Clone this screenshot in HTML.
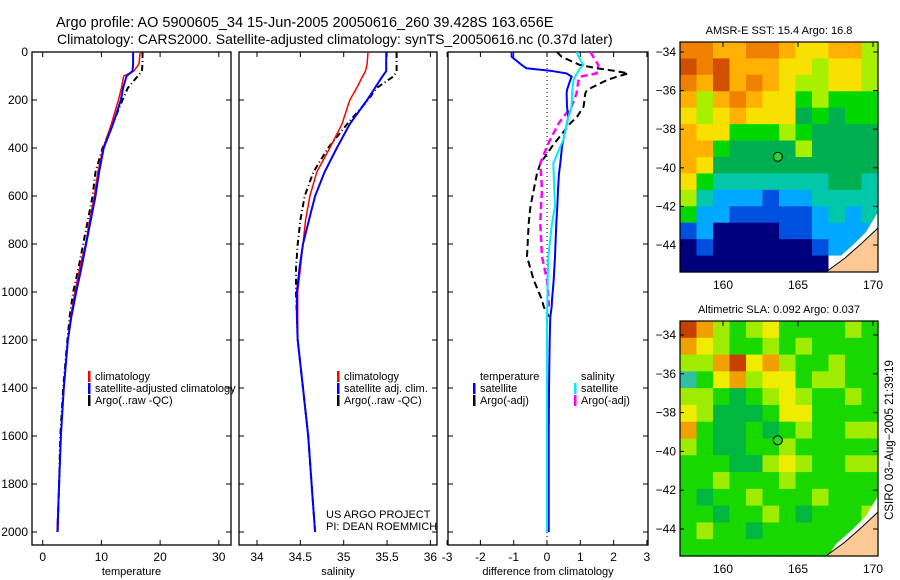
<!DOCTYPE html>
<html><head><meta charset="utf-8"><style>
body{margin:0;background:#fff;}
svg{display:block;font-family:"Liberation Sans",sans-serif;}
</style></head><body>
<svg id="c" width="900" height="580" xmlns="http://www.w3.org/2000/svg">
<text x="56" y="27" font-size="14.5">Argo profile: AO 5900605_34 15-Jun-2005 20050616_260 39.428S 163.656E</text>
<text x="57" y="44" font-size="14">Climatology: CARS2000. Satellite-adjusted climatology: synTS_20050616.nc (0.37d later)</text>
<g id="g"></g>
</svg>
<script>
const depths=[0,50,80,100,150,200,300,400,500,600,700,800,900,1000,1100,1200,1400,1600,1800,2000];
const tClim=[16.6,16.4,15.5,13.8,13.4,12.9,11.7,10.3,9.4,8.8,8.0,7.3,6.3,5.5,4.8,4.3,3.6,3.1,2.8,2.6];
const tSat=[15.4,15.4,15.3,14.3,13.7,13.3,12.0,10.4,9.6,9.0,8.2,7.4,6.6,5.7,4.9,4.3,3.6,3.1,2.8,2.5];
const tArgo=[17.0,17.0,16.9,16.2,14.5,13.6,11.9,10.2,9.0,8.5,7.7,6.9,6.1,5.2,4.6,4.2,3.5,3.0,2.8,2.5];
const sClim=[35.28,35.27,35.25,35.22,35.15,35.07,34.98,34.84,34.69,34.61,34.56,34.53,34.5,34.47,34.47,34.47,34.53,34.59,34.63,34.67];
const sSat=[35.49,35.49,35.49,35.45,35.36,35.27,35.07,34.92,34.78,34.67,34.6,34.53,34.49,34.46,34.46,34.47,34.53,34.59,34.63,34.67];
const sArgo=[35.61,35.61,35.61,35.58,35.38,35.28,35.04,34.82,34.65,34.55,34.5,34.47,34.45,34.45,34.46,34.47,34.53,34.59,34.63,34.67];
const dDepth=[0,20,54,68,78,89,103,117,158,172,228,270,297,367,394,464,506,575,645,714,853,950,1033,1061,1103,1200,1400,1600,1800,2000];
const dTSat=[-1.06,-1.06,-0.76,-0.62,0.09,0.59,0.74,0.7,0.6,0.59,0.6,0.64,0.6,0.49,0.45,0.4,0.36,0.33,0.31,0.28,0.24,0.2,0.15,0.14,0.1,0.08,0.06,0.05,0.05,0.05];
const dTArgo=[0.3,0.44,0.99,1.5,2.0,2.44,2.1,1.8,1.2,1.15,1.1,0.9,0.7,0.3,0.15,-0.2,-0.3,-0.4,-0.5,-0.55,-0.6,-0.4,-0.15,-0.1,0.05,null,null,null,null,null];
const dSSat=[0.89,0.95,1.09,1.0,0.95,0.9,0.84,0.8,0.76,0.75,0.74,0.65,0.6,0.49,0.4,0.19,0.2,0.22,0.24,0.15,0.04,0.02,0.01,0.01,0.0,0.0,0.0,0.0,0.0,0.0];
const dSArgo=[1.3,1.39,1.54,1.52,1.5,1.49,0.99,0.95,0.9,0.89,0.74,0.5,0.35,0.09,0.0,-0.2,-0.18,-0.15,-0.18,-0.2,-0.15,0.0,0.05,0.05,null,null,null,null,null,null];
const sstGrid=["998899877886","A9A888776776","98A898766776","868987756555","767877745455","877555654444","885444464444","874444444444","753333333443","632221223333","522111112323","120000112222","01000000122W","000000000WWL"];
const slaGrid=["653234222232","543223232222","335645322322","024534423322","332123432232","431112442222","521121232233","321122322222","222113432233","223222322222","212232223222","221223212223","232212222222","222222222222"];
const yTicks=[0,200,400,600,800,1000,1200,1400,1600,1800,2000];
const tTicks=[0,10,20,30];
const sTicks=[34,34.5,35,35.5,36];
const dTicks=[-3,-2,-1,0,1,2,3];
const lonTicks=[160,165,170];
const latTicks=[-34,-36,-38,-40,-42,-44];
const sstColors=["#00007f","#0050e0","#00a8ff","#00c8a8","#00b050","#00d800","#a8f000","#f8e000","#ffb000","#f08000","#d05000"];
const slaColors=["#30c0a0","#00b840","#18d800","#a0ec00","#f0ec00","#f0a000","#c84000"];

const NS="http://www.w3.org/2000/svg";
const g=document.getElementById('g');
function el(t,a,p){const e=document.createElementNS(NS,t);for(const k in a)e.setAttribute(k,a[k]);(p||g).appendChild(e);return e;}
const Y=d=>52+d*0.24;
function panel(name,x0,x1,X,xt,label,ylab){
  const r=el('rect',{x:x0,y:52,width:x1-x0,height:493,fill:'none',stroke:'#000','stroke-width':1.3});
  
  
  yTicks.forEach(d=>{
    el('line',{x1:x0,x2:x0+5,y1:Y(d),y2:Y(d),stroke:'#000'});
    el('line',{x1:x1,x2:x1-5,y1:Y(d),y2:Y(d),stroke:'#000'});
    if(ylab){const t=el('text',{x:28,y:Y(d)+4,'font-size':12,'text-anchor':'end'});t.textContent=d;
      
      }
  });
  xt.forEach(v=>{
    el('line',{x1:X(v),x2:X(v),y1:52,y2:57,stroke:'#000'});
    el('line',{x1:X(v),x2:X(v),y1:545,y2:540,stroke:'#000'});
    const t=el('text',{x:X(v),y:561,'font-size':12,'text-anchor':'middle'});t.textContent=v;
    
    
  });
  const t=el('text',{x:(x0+x1)/2,y:575,'font-size':11,'text-anchor':'middle'});t.textContent=label;
  
  
}
function line(name,X,vals,ds,color,w,dash){
  let pts=[];
  vals.forEach((v,i)=>{if(v!==null)pts.push(X(v).toFixed(1)+','+Y(ds[i]).toFixed(1));});
  const a={points:pts.join(' '),fill:'none',stroke:color,'stroke-width':w};
  if(dash)a['stroke-dasharray']=dash;
  const p=el('polyline',a);
  
  
}
function legend(x,y,items){
  items.forEach((it,i)=>{
    if(it[1])el('rect',{x:x,y:y+i*12-9,width:2.5,height:11,fill:it[1]});
    const t=el('text',{x:x+7,y:y+i*12,'font-size':11});t.textContent=it[0];
    
    
  });
}
// Panel 1
const XT=v=>42.7+v*5.87;
panel('temperature-panel',32,231,XT,tTicks,'temperature',true);
line('temp-argo',XT,tArgo,depths,'#000',2,'6,3,1,3');
line('temp-climatology',XT,tClim,depths,'#f00',1.5);
line('temp-satellite',XT,tSat,depths,'#00f',2);
legend(88,380,[['climatology','#f00'],['satellite-adjusted climatology','#00f'],['Argo(..raw -QC)','#000']]);
// Panel 2
const XS=v=>257+(v-34)*86.7;
panel('salinity-panel',239,437,XS,sTicks,'salinity',false);
line('sal-argo',XS,sArgo,depths,'#000',2,'6,3,1,3');
line('sal-climatology',XS,sClim,depths,'#f00',1.5);
line('sal-satellite',XS,sSat,depths,'#00f',2);
legend(337,380,[['climatology','#f00'],['satellite adj. clim.','#00f'],['Argo(..raw -QC)','#000']]);
[['US ARGO PROJECT',518],['PI: DEAN ROEMMICH',530]].forEach(a=>{const t=el('text',{x:326,y:a[1],'font-size':11});t.textContent=a[0];
  
  });
// Panel 3
const XD=v=>547+v*33.3;
panel('difference-panel',448,648,XD,dTicks,'difference from climatology',false);
el('line',{x1:XD(0),x2:XD(0),y1:52,y2:545,stroke:'#000','stroke-dasharray':'1,3'});
line('diff-temp-argo',XD,dTArgo,dDepth,'#000',2,'7,4');
line('diff-sal-argo',XD,dSArgo,dDepth,'#f0f',2.5,'7,4');
line('diff-temp-satellite',XD,dTSat,dDepth,'#00f',2);
line('diff-sal-satellite',XD,dSSat,dDepth,'#0ee',2);
legend(473,380,[['temperature',null],['satellite','#00f'],['Argo(-adj)','#000']]);
legend(574,380,[['salinity',null],['satellite','#0ee'],['Argo(-adj)','#f0f']]);
// Maps
function map(name,y0,y1,latY,grid,cols,title){
  const x0=680,x1=878,nr=grid.length,nc=12;
  const cw=(x1-x0)/nc,ch=(y1-y0)/nr;
  grid.forEach((row,r)=>{for(let c=0;c<nc;c++){const ch_=row[c];let f;
    if(ch_==='W')f='#fff';else if(ch_==='L')f='#fcc896';else f=cols[parseInt(ch_,16)];
    const e=el('rect',{x:(x0+c*cw).toFixed(2),y:(y0+r*ch).toFixed(2),width:(cw+0.6).toFixed(2),height:(ch+0.6).toFixed(2),fill:f});
    
    }});
  el('polygon',{points:`828,${y1} 836,${y1-12} 853,${y1-27} 866,${y1-40} 878,${y1-60} 878,${y1}`,fill:'#fff'});
  el('polygon',{points:`826,${y1} 845,${y1-14} 862,${y1-29} 878,${y1-44} 878,${y1}`,fill:'#fcc896'});
  el('polyline',{points:`826,${y1} 845,${y1-14} 862,${y1-29} 878,${y1-44}`,fill:'none',stroke:'#000','stroke-width':1});
  const LX=v=>723+(v-160)*15;
  const fr=el('rect',{x:x0,y:y0,width:x1-x0,height:y1-y0,fill:'none',stroke:'#000','stroke-width':1.2});
  
  
  latTicks.forEach(v=>{el('line',{x1:x1,x2:x1-5,y1:latY(v),y2:latY(v),stroke:'#000'});el('line',{x1:x0,x2:x0+4,y1:latY(v),y2:latY(v),stroke:'#000'});
    const t=el('text',{x:676,y:latY(v)+4,'font-size':12,'text-anchor':'end'});t.textContent='\u2212'+(-v);
    
    });
  lonTicks.forEach(v=>{el('line',{x1:LX(v),x2:LX(v),y1:y0,y2:y0+5,stroke:'#000'});
    const t=el('text',{x:LX(v),y:y1+17,'font-size':12,'text-anchor':'middle'});t.textContent=v;
    
    });
  const c=el('circle',{cx:LX(163.656),cy:latY(-39.428),r:4.5,fill:'#30d030',stroke:'#000','stroke-width':1});
  
  
  const t=el('text',{x:779,y:y0-8,'font-size':11,'text-anchor':'middle'});t.textContent=title;
  
  
}
map('sst-map',42,272,v=>52+(-34-v)*19.3,sstGrid,sstColors,'AMSR-E SST: 15.4 Argo: 16.8');
map('sla-map',321,556,v=>335+(-34-v)*19.4,slaGrid,slaColors,'Altimetric SLA: 0.092 Argo: 0.037');
const ct=el('text',{x:0,y:0,'font-size':11.5,'text-anchor':'middle',transform:'translate(893,440) rotate(-90)'});
ct.textContent='CSIRO 03\u2212Aug\u22122005 21:39:19';


</script>
</body></html>
